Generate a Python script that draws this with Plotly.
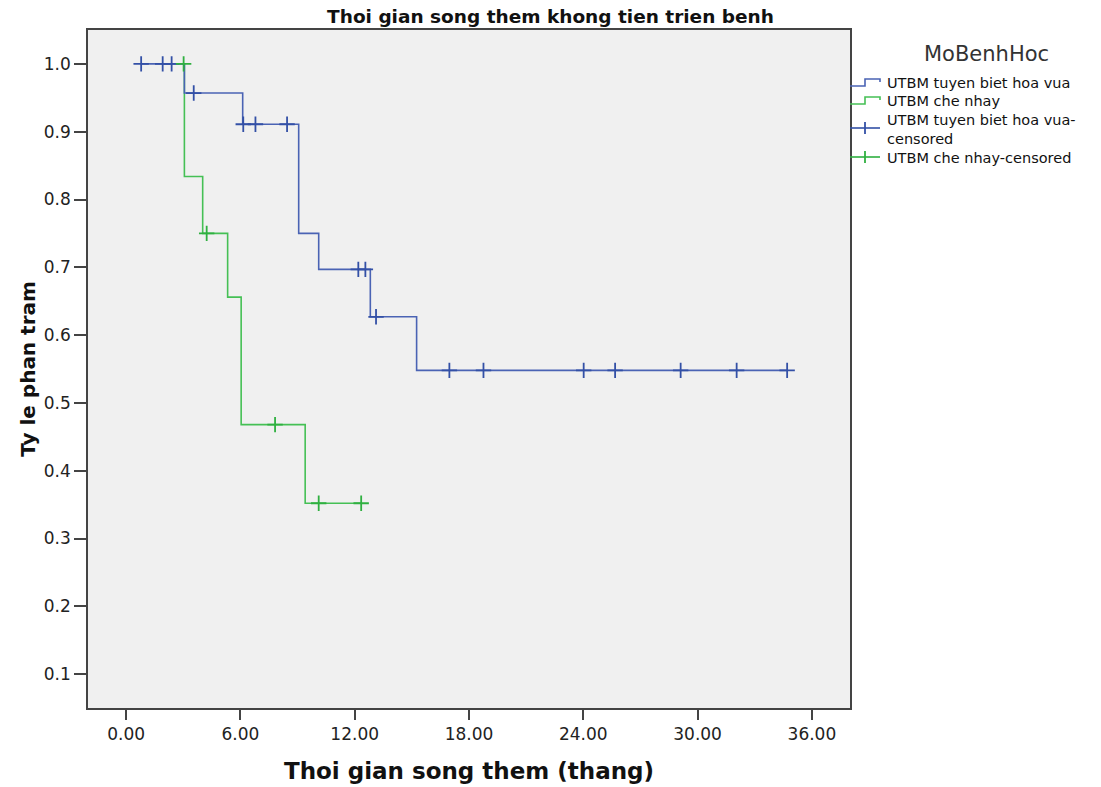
import plotly.graph_objects as go

# Kaplan-Meier steps (time in months, survival proportion)
blue_name = "UTBM tuyen biet hoa vua"
green_name = "UTBM che nhay"
legend_title = "MoBenhHoc"

blue_step_time = [0.79, 3.06, 6.12, 9.06, 10.11, 12.82, 15.25, 34.70]
blue_step_surv = [1.000, 0.957, 0.911, 0.750, 0.697, 0.627, 0.548, 0.548]
blue_cens_time = [0.79, 1.92, 2.39, 3.55, 6.15, 6.79, 8.45, 12.19, 12.56, 13.12,
                  16.97, 18.76, 24.02, 25.67, 29.11, 32.05, 34.70]
blue_cens_surv = [1.000, 1.000, 1.000, 0.957, 0.911, 0.911, 0.911, 0.697, 0.697, 0.627,
                  0.548, 0.548, 0.548, 0.548, 0.548, 0.548, 0.548]

green_step_time = [3.02, 3.06, 4.02, 5.33, 6.04, 9.40, 12.34]
green_step_surv = [1.000, 0.834, 0.750, 0.656, 0.468, 0.352, 0.352]
green_cens_time = [3.02, 4.23, 7.82, 10.11, 12.34]
green_cens_surv = [1.000, 0.750, 0.468, 0.352, 0.352]

x_ticks = [0, 6, 12, 18, 24, 30, 36]
x_ticklabels = ["0.00", "6.00", "12.00", "18.00", "24.00", "30.00", "36.00"]
y_ticks = [0.1, 0.2, 0.3, 0.4, 0.5, 0.6, 0.7, 0.8, 0.9, 1.0]

BLUE_LINE = "#4a63b4"
BLUE_MARK = "#3350a6"
GREEN_LINE = "#45c055"
GREEN_MARK = "#2fb040"
FONT = "DejaVu Sans, Verdana, sans-serif"

W, H = 1101, 787
ML, MR, MT, MB = 88, 251, 30, 79
PW, PH = W - ML - MR, H - MT - MB


def px(x):
    return (x - ML) / PW


def py(y):
    return 1 - (y - MT) / PH


fig = go.Figure()
fig.add_trace(go.Scatter(x=green_step_time, y=green_step_surv, mode="lines",
                         line=dict(color=GREEN_LINE, width=1.6, shape="hv"),
                         name=green_name, showlegend=False))
fig.add_trace(go.Scatter(x=blue_step_time, y=blue_step_surv, mode="lines",
                         line=dict(color=BLUE_LINE, width=1.6, shape="hv"),
                         name=blue_name, showlegend=False))
fig.add_trace(go.Scatter(x=blue_cens_time, y=blue_cens_surv, mode="markers",
                         marker=dict(symbol="cross-thin", size=11,
                                     line=dict(color=BLUE_MARK, width=1.8)),
                         name=blue_name + "-censored", showlegend=False))
fig.add_trace(go.Scatter(x=green_cens_time, y=green_cens_surv, mode="markers",
                         marker=dict(symbol="cross-thin", size=11,
                                     line=dict(color=GREEN_MARK, width=1.8)),
                         name=green_name + "-censored", showlegend=False))

# ---- hand-built legend (SPSS style) ----
shapes = []
annotations = []


def step_icon(y_low, color):
    y_up = y_low - 7
    path = (f"M {px(850)},{py(y_low)} L {px(865)},{py(y_low)} L {px(865)},{py(y_up)} "
            f"L {px(880)},{py(y_up)} L {px(880)},{py(y_up + 3)}")
    shapes.append(dict(type="path", xref="paper", yref="paper", path=path,
                       line=dict(color=color, width=1.6)))


def cens_icon(y, color):
    shapes.append(dict(type="line", xref="paper", yref="paper",
                       x0=px(850), x1=px(880), y0=py(y), y1=py(y),
                       line=dict(color=color, width=1.6)))
    shapes.append(dict(type="line", xref="paper", yref="paper",
                       x0=px(865), x1=px(865), y0=py(y - 6), y1=py(y + 6),
                       line=dict(color=color, width=1.8)))


def leg_text(text, y):
    annotations.append(dict(text=text, xref="paper", yref="paper", x=px(885), y=py(y),
                            xanchor="left", yanchor="middle", align="left", showarrow=False,
                            font=dict(family=FONT, size=14.5, color="#111111")))


annotations.append(dict(text=legend_title, xref="paper", yref="paper", x=px(986), y=py(54),
                        xanchor="center", yanchor="middle", showarrow=False,
                        font=dict(family=FONT, size=21, color="#333333")))
step_icon(86, BLUE_LINE)
leg_text(blue_name, 83)
step_icon(104, GREEN_LINE)
leg_text(green_name, 101)
cens_icon(128, BLUE_MARK)
leg_text(blue_name + "-<br>censored", 129)
cens_icon(157, GREEN_MARK)
leg_text(green_name + "-censored", 158)

axis_common = dict(showgrid=False, zeroline=False, showline=True, mirror=True,
                   linecolor="#444444", linewidth=1.6, ticks="outside",
                   tickcolor="#444444", tickwidth=1.6,
                   tickfont=dict(family=FONT, size=17, color="#222222"))

fig.update_layout(
    width=W, height=H,
    margin=dict(l=ML, r=MR, t=MT, b=MB, autoexpand=False),
    paper_bgcolor="white", plot_bgcolor="#f0f0f0",
    title=dict(text="<b>Thoi gian song them khong tien trien benh</b>",
               x=0.5, xanchor="center", yref="container", y=1 - 17 / H, yanchor="middle",
               font=dict(family=FONT, size=18.5, color="#111111")),
    xaxis=dict(range=[-2, 38], tickvals=x_ticks, ticktext=x_ticklabels, ticklen=10,
               title=dict(text="<b>Thoi gian song them (thang)</b>", standoff=20,
                          font=dict(family=FONT, size=23, color="#111111")),
               **axis_common),
    yaxis=dict(range=[0.05, 1.05], tickvals=y_ticks, tickformat=".1f", ticklen=12,
               title=dict(text="<b>Ty le phan tram</b>", standoff=3,
                          font=dict(family=FONT, size=20, color="#111111")),
               **axis_common),
    shapes=shapes,
    annotations=annotations,
    showlegend=False,
)

fig.write_html("out.html")
